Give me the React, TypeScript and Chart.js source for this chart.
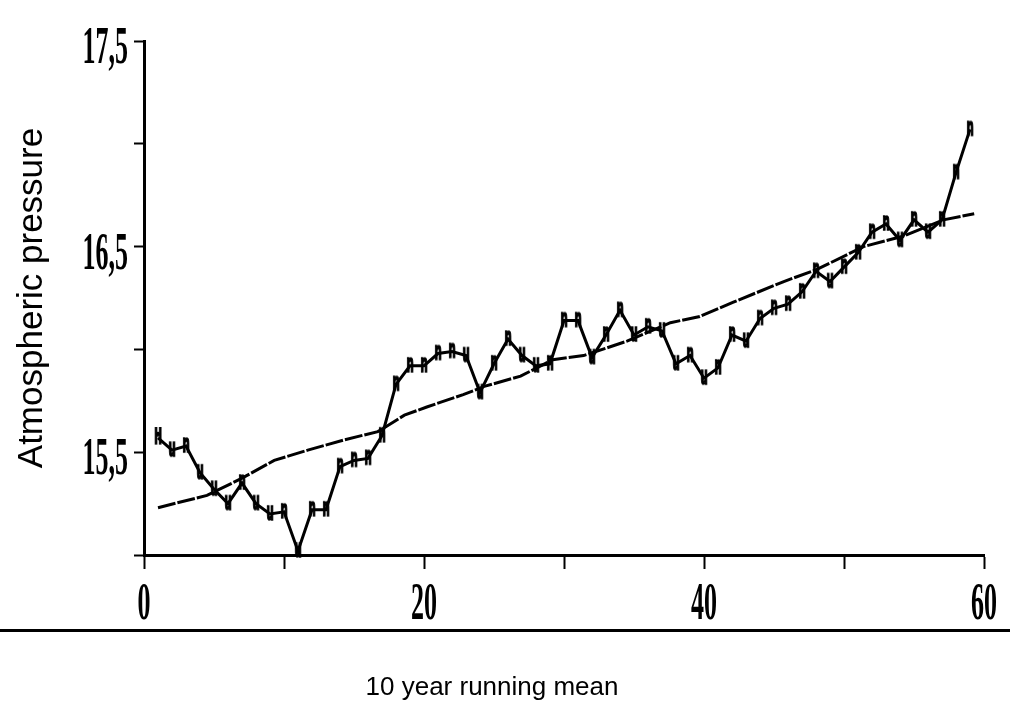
import React, { useEffect, useRef } from "react";
import { Chart, registerables } from "chart.js";

Chart.register(...registerables);

// Yearly values of the noisy series (x = year index)
const years = [
  1, 2, 3, 4, 5, 6, 7, 8, 9, 10,
  11, 12, 13, 14, 15, 16, 17, 18, 19, 20,
  21, 22, 23, 24, 25, 26, 27, 28, 29, 30,
  31, 32, 33, 34, 35, 36, 37, 38, 39, 40,
  41, 42, 43, 44, 45, 46, 47, 48, 49, 50,
  51, 52, 53, 54, 55, 56, 57, 58, 59,
];
const pressure = [
  15.57, 15.51, 15.53, 15.4, 15.32, 15.25, 15.35, 15.25, 15.2, 15.21,
  15.02, 15.22, 15.22, 15.43, 15.46, 15.47, 15.58, 15.83, 15.92, 15.92,
  15.98, 15.99, 15.97, 15.79, 15.93, 16.05, 15.97, 15.92, 15.93, 16.14,
  16.14, 15.96, 16.07, 16.19, 16.07, 16.11, 16.09, 15.93, 15.97, 15.86,
  15.91, 16.07, 16.04, 16.15, 16.2, 16.22, 16.28, 16.38, 16.33, 16.4,
  16.47, 16.57, 16.61, 16.53, 16.63, 16.57, 16.63, 16.86, 17.07,
];

// Trend line read at several positions
const trendYears = [
  1, 4.5, 6.9, 9.3, 11.7, 14.3, 16.7, 18.6, 20.2, 22.8, 24.3, 26.9,
  29.2, 31.4, 34.5, 37.6, 39.7, 42.1, 45.7, 48.1, 51.4, 54.2, 57.1, 59.3,
];
const trendValues = [
  15.23, 15.29, 15.37, 15.46, 15.51, 15.56, 15.6, 15.68, 15.72, 15.78, 15.82, 15.87,
  15.95, 15.97, 16.04, 16.13, 16.16, 16.23, 16.33, 16.39, 16.5, 16.55, 16.63, 16.66,
];

const yLabelValues = [15.5, 16.5, 17.5];
const yTickLabels = ["15,5", "16,5", "17,5"];
const xLabelValues = [0, 20, 40, 60];
const xTickLabels = ["0", "20", "40", "60"];

const xTitle = "10 year running mean";
const yTitle = "Atmospheric pressure";

function makeGlyph(ch: string): HTMLCanvasElement {
  const c = document.createElement("canvas");
  c.width = 14;
  c.height = 22;
  const g = c.getContext("2d")!;
  g.fillStyle = "#000";
  g.strokeStyle = "#000";
  g.lineWidth = 1;
  g.font = 'bold 16px "DejaVu Sans Mono", "Liberation Mono", monospace';
  g.textAlign = "center";
  g.textBaseline = "middle";
  g.save();
  g.translate(7, 11);
  g.scale(0.8, 1.5);
  g.fillText(ch, 0, 0);
  g.strokeText(ch, 0, 0);
  g.restore();
  return c;
}

const TICK_FONT = 'bold 52px "Liberation Serif", "DejaVu Serif", serif';

const decorPlugin = {
  id: "decor",
  afterDraw(chart: any) {
    const { ctx, scales } = chart;
    const x = scales.x;
    const y = scales.y;
    ctx.save();
    ctx.fillStyle = "#000";
    ctx.font = TICK_FONT;
    ctx.textBaseline = "alphabetic";
    ctx.textAlign = "right";
    yLabelValues.forEach((v, i) => {
      const py = y.getPixelForValue(v);
      ctx.save();
      ctx.translate(y.right - 16, py + 22);
      ctx.scale(0.5, 1);
      ctx.fillText(yTickLabels[i], 0, 0);
      ctx.restore();
    });
    ctx.textAlign = "center";
    xLabelValues.forEach((v, i) => {
      const px = x.getPixelForValue(v);
      ctx.save();
      ctx.translate(px, x.top + 64);
      ctx.scale(0.5, 1);
      ctx.fillText(xTickLabels[i], 0, 0);
      ctx.restore();
    });
    // horizontal rule under the tick labels
    ctx.fillRect(0, x.top + 74, chart.width, 3);
    ctx.restore();
  },
};

export default function App() {
  const ref = useRef<HTMLCanvasElement | null>(null);

  useEffect(() => {
    document.body.style.margin = "0";
    const canvas = ref.current;
    if (!canvas) return;
    const glyphU = makeGlyph("u");
    const glyphN = makeGlyph("n");
    const glyphH = makeGlyph("H");

    const chart = new Chart(canvas, {
      type: "line",
      data: {
        datasets: [
          {
            label: "series",
            data: years.map((yr, i) => ({ x: yr, y: pressure[i] })),
            borderColor: "#000",
            backgroundColor: "#000",
            borderWidth: 3,
            tension: 0,
            pointRadius: 4,
            clip: false as any,
            pointStyle: (c: any) => {
              const i = c.dataIndex;
              if (i === 0) return glyphH;
              return pressure[i] >= pressure[i - 1] ? glyphN : glyphU;
            },
          } as any,
          {
            label: "trend",
            data: trendYears.map((yr, i) => ({ x: yr, y: trendValues[i] })),
            borderColor: "#000",
            borderWidth: 3,
            borderDash: [18, 2],
            pointRadius: 0,
            tension: 0,
          },
        ],
      },
      options: {
        animation: false,
        responsive: false,
        layout: { padding: { top: 41, right: 26, left: 0, bottom: 0 } },
        plugins: {
          legend: { display: false },
          tooltip: { enabled: false },
          title: {
            display: true,
            position: "bottom",
            text: xTitle,
            color: "#000",
            font: { family: '"Liberation Sans", Arial, sans-serif', size: 26, weight: "normal" },
            padding: { top: 0, bottom: 3 },
          },
        },
        scales: {
          x: {
            type: "linear",
            min: 0,
            max: 60,
            ticks: { stepSize: 10, display: false },
            grid: {
              drawOnChartArea: false,
              drawTicks: true,
              tickLength: 14,
              tickWidth: 2,
              tickColor: "#000",
            },
            border: { color: "#000", width: 3 },
            afterFit: (s: any) => {
              s.height = 116.8;
            },
          },
          y: {
            type: "linear",
            min: 15,
            max: 17.5,
            ticks: { stepSize: 0.5, display: false },
            grid: {
              drawOnChartArea: false,
              drawTicks: true,
              tickLength: 10,
              tickWidth: 2,
              tickColor: "#000",
            },
            border: { color: "#000", width: 3 },
            title: {
              display: true,
              text: yTitle,
              color: "#000",
              font: { family: '"Liberation Sans", Arial, sans-serif', size: 35 },
              padding: { top: 11, bottom: 0 },
            },
            afterFit: (s: any) => {
              s.width = 144;
            },
          },
        },
      },
      plugins: [decorPlugin],
    } as any);

    return () => chart.destroy();
  }, []);

  return (
    <div style={{ width: 1010, height: 706, background: "#fff" }}>
      <canvas ref={ref} width={1010} height={706} style={{ display: "block" }} />
    </div>
  );
}
